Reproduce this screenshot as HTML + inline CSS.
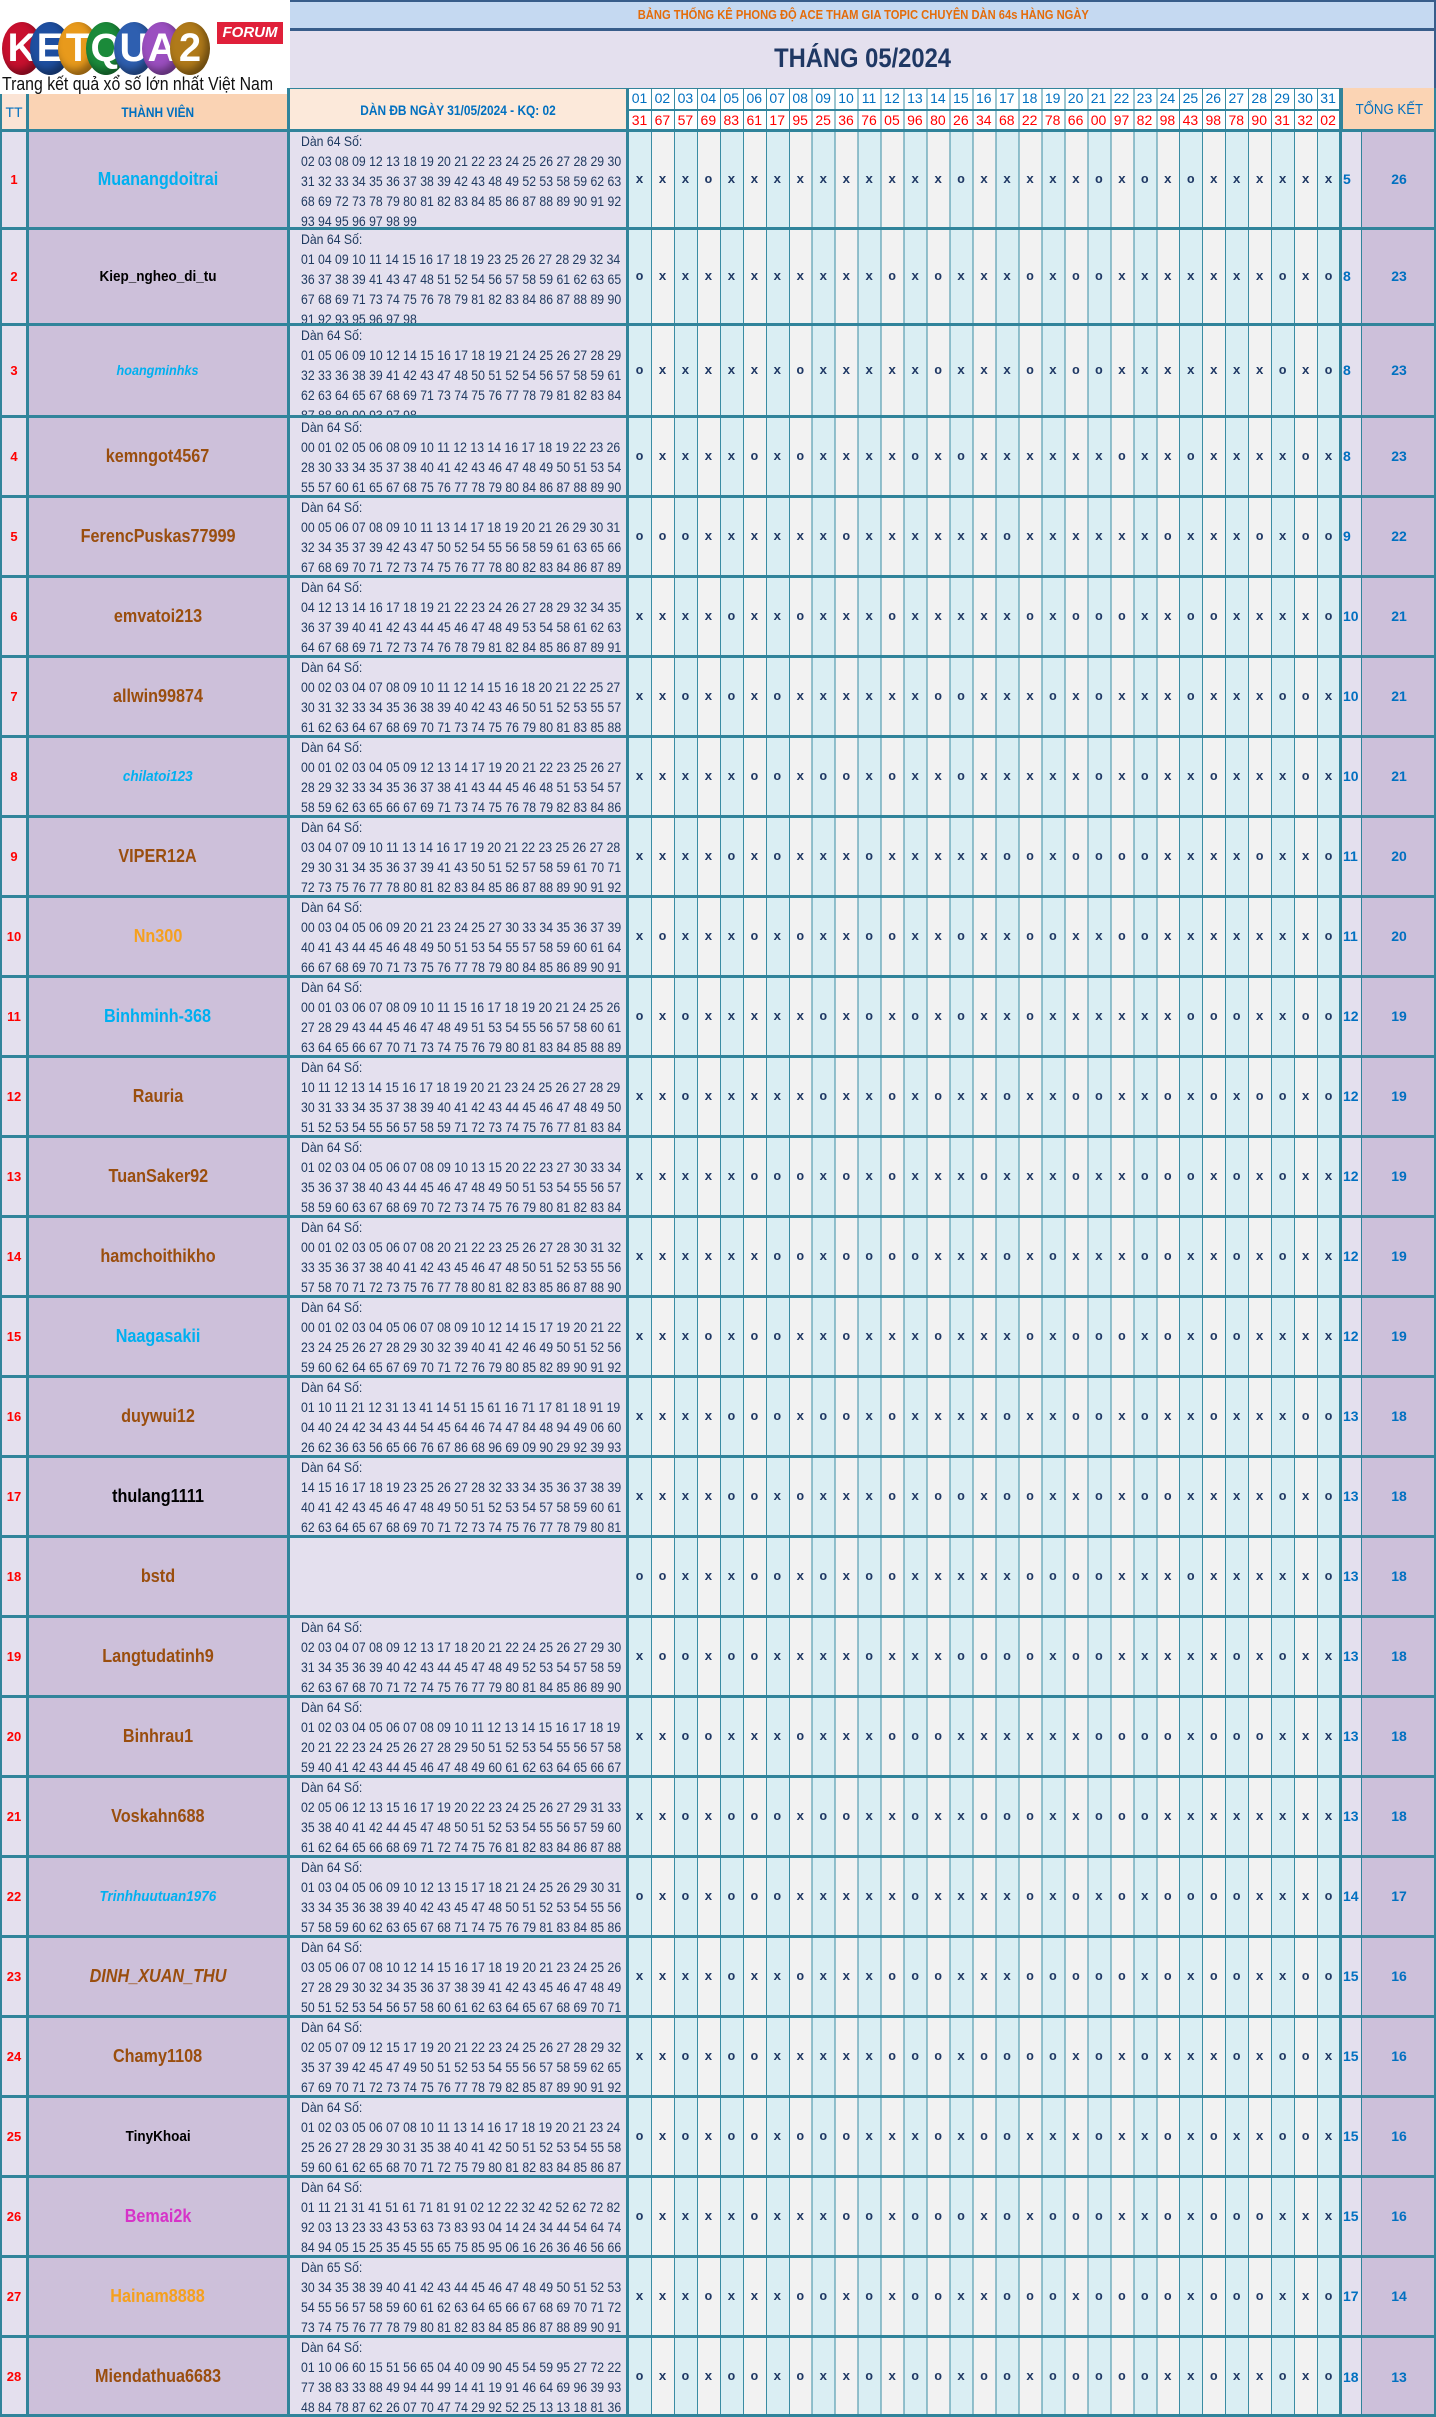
<!DOCTYPE html>
<html><head><meta charset="utf-8">
<style>
*{margin:0;padding:0;box-sizing:border-box}
body{width:1436px;height:2417px;position:relative;overflow:hidden;background:#fff;font-family:"Liberation Sans",sans-serif}
.a{position:absolute}
.r{position:absolute;left:0;width:1436px;display:flex;overflow:hidden}
.tt{width:28px;display:flex;align-items:center;justify-content:center;color:#f00;font-weight:bold;font-size:13px}
.nm{width:260px;display:flex;align-items:center;justify-content:center}
.nm span{display:inline-block;font-weight:bold;font-size:18px;transform:scaleX(.9);white-space:nowrap;color:#9A4E0E}
.dn{width:340px;overflow:hidden;padding-left:13px}
.t{width:366px;transform:scaleX(.875);transform-origin:0 0;white-space:pre;font-size:14px;line-height:20px;color:#1F3A60;padding-top:1px}
.mk{width:712px;font-family:"Liberation Mono",monospace;font-weight:bold;font-size:13px;letter-spacing:15.168px;padding-left:7.6px;display:flex;align-items:center;color:#1F3864;white-space:pre}
.ct{width:22px;display:flex;align-items:center;padding-left:3px;color:#0070C0;font-size:14px}
.to{width:74px;display:flex;align-items:center;justify-content:center;color:#0070C0;font-size:14px}
.hl{position:absolute;left:0;width:1436px;height:3px;background:#31849B}
.vl{position:absolute;top:130px;height:2287px;width:3px;background:#31849B}
.dh{position:absolute;left:628px;width:712px;display:flex}
.dh span{width:22.968px;text-align:center;font-size:14px;display:inline-block}
.nm span.lb{color:#00B0F0}.nm span.bk{color:#000}.it{font-style:italic}.nm span.or{color:#F5A01E}
.circ{position:absolute;top:22px;width:40px;height:53px;border-radius:50%;color:#fff;font-weight:bold;font-size:40px;display:flex;align-items:center;justify-content:center;box-shadow:inset -4px -5px 8px rgba(0,0,0,.4)}
</style></head><body>

<div class="a" style="left:0;top:130px;width:28px;height:2287px;background:#E4E0EE"></div>
<div class="a" style="left:28px;top:130px;width:260px;height:2287px;background:#CDC0DA"></div>
<div class="a" style="left:288px;top:130px;width:340px;height:2287px;background:#E4E0EE"></div>
<div class="a" style="left:628px;top:130px;width:712px;height:2287px;background:repeating-linear-gradient(90deg,#3A8CA3 0 1px,transparent 1px 22.968px),repeating-linear-gradient(90deg,#DAEEF3 0 22.968px,#F2F2F2 22.968px 45.936px)"></div>
<div class="a" style="left:1340px;top:130px;width:22px;height:2287px;background:#E4E0EE"></div>
<div class="a" style="left:1362px;top:130px;width:74px;height:2287px;background:#CDC0DA"></div>

<div class="circ" style="left:2px;background:#C8102E">K</div>
<div class="circ" style="left:30px;background:#1E4FA0">E</div>
<div class="circ" style="left:58px;background:#E89A1C">T</div>
<div class="circ" style="left:86px;background:#1B8A3A">Q</div>
<div class="circ" style="left:114px;background:#2E5FB0">U</div>
<div class="circ" style="left:142px;background:#9B4FC0">A</div>
<div class="circ" style="left:170px;background:#B07A1A">2</div>
<div class="a" style="left:217px;top:22px;width:66px;height:22px;background:#E0203A;color:#fff;font-weight:bold;font-style:italic;font-size:15px;text-align:center;line-height:22px">FORUM</div>
<div class="a" style="left:2px;top:74px;font-size:18px;white-space:nowrap;transform:scaleX(.88);transform-origin:0 0;color:#111">Trang kết quả xổ số lớn nhất Việt Nam</div>

<div class="a" style="left:290px;top:0;width:1146px;height:29px;background:#C5D9F1;border-top:2px solid #385D8A;border-right:2px solid #385D8A"></div>
<div class="a" style="left:290px;top:7px;width:1146px;text-align:center;color:#E46C0A;font-weight:bold;font-size:13px;white-space:nowrap"><span style="display:inline-block;transform:scaleX(.86)">BẢNG THỐNG KÊ PHONG ĐỘ ACE THAM GIA TOPIC CHUYÊN DÀN 64s HÀNG NGÀY</span></div>
<div class="a" style="left:290px;top:28px;width:1146px;height:3px;background:#385D8A"></div>
<div class="a" style="left:290px;top:31px;width:1146px;height:57px;background:#E4E0EE;border-right:2px solid #385D8A"></div>
<div class="a" style="left:290px;top:43px;width:1146px;text-align:center;color:#1F3864;font-weight:bold;font-size:27px;white-space:nowrap"><span style="display:inline-block;transform:scaleX(.88)">THÁNG 05/2024</span></div>

<div class="a" style="left:0;top:94px;width:28px;height:36px;background:#FBE4D5;color:#0070C0;font-size:14px;display:flex;align-items:center;justify-content:center">TT</div>
<div class="a" style="left:28px;top:94px;width:260px;height:36px;background:#FAD3B4;color:#0070C0;font-size:14px;font-weight:bold;display:flex;align-items:center;justify-content:center"><span style="display:inline-block;transform:scaleX(.85)">THÀNH VIÊN</span></div>
<div class="a" style="left:288px;top:88px;width:340px;height:42px;background:#FCE9DA;color:#0070C0;font-size:14px;font-weight:bold;display:flex;align-items:center;justify-content:center;border-top:1px solid #31849B"><span style="display:inline-block;transform:scaleX(.85);white-space:nowrap">DÀN ĐB NGÀY 31/05/2024 - KQ: 02</span></div>
<div class="a" style="left:628px;top:88px;width:712px;height:42px;background:repeating-linear-gradient(90deg,#3A8CA3 0 1px,#fff 1px 22.968px);border-top:1px solid #31849B"></div>
<div class="a" style="left:628px;top:109px;width:712px;height:2px;background:#31849B"></div>
<div class="a" style="left:1340px;top:88px;width:96px;height:42px;background:#FBD4B4;color:#0070C0;font-size:15px;display:flex;align-items:center;justify-content:center;border-left:3px solid #31849B"><span style="display:inline-block;transform:scaleX(.88)">TỔNG KẾT</span></div>

<div class="dh" style="top:90px;color:#0070C0"><span>01</span><span>02</span><span>03</span><span>04</span><span>05</span><span>06</span><span>07</span><span>08</span><span>09</span><span>10</span><span>11</span><span>12</span><span>13</span><span>14</span><span>15</span><span>16</span><span>17</span><span>18</span><span>19</span><span>20</span><span>21</span><span>22</span><span>23</span><span>24</span><span>25</span><span>26</span><span>27</span><span>28</span><span>29</span><span>30</span><span>31</span></div>
<div class="dh" style="top:112px;color:#f00"><span>31</span><span>67</span><span>57</span><span>69</span><span>83</span><span>61</span><span>17</span><span>95</span><span>25</span><span>36</span><span>76</span><span>05</span><span>96</span><span>80</span><span>26</span><span>34</span><span>68</span><span>22</span><span>78</span><span>66</span><span>00</span><span>97</span><span>82</span><span>98</span><span>43</span><span>98</span><span>78</span><span>90</span><span>31</span><span>32</span><span>02</span></div>

<div class="r" style="top:130px;height:98px"><b class="tt">1</b><div class="nm"><span class="lb">Muanangdoitrai</span></div><div class="dn"><div class="t">Dàn 64 Số:
02 03 08 09 12 13 18 19 20 21 22 23 24 25 26 27 28 29 30
31 32 33 34 35 36 37 38 39 42 43 48 49 52 53 58 59 62 63
68 69 72 73 78 79 80 81 82 83 84 85 86 87 88 89 90 91 92
93 94 95 96 97 98 99</div></div><div class="mk">xxxoxxxxxxxxxxoxxxxxoxoxoxxxxxx</div><b class="ct">5</b><b class="to">26</b></div>

<div class="r" style="top:228px;height:96px"><b class="tt">2</b><div class="nm"><span class="bk" style="font-size:15px">Kiep_ngheo_di_tu</span></div><div class="dn"><div class="t">Dàn 64 Số:
01 04 09 10 11 14 15 16 17 18 19 23 25 26 27 28 29 32 34
36 37 38 39 41 43 47 48 51 52 54 56 57 58 59 61 62 63 65
67 68 69 71 73 74 75 76 78 79 81 82 83 84 86 87 88 89 90
91 92 93 95 96 97 98</div></div><div class="mk">oxxxxxxxxxxoxoxxxoxooxxxxxxxoxo</div><b class="ct">8</b><b class="to">23</b></div>

<div class="r" style="top:324px;height:92px"><b class="tt">3</b><div class="nm"><span class="lb it" style="font-size:14px">hoangminhks</span></div><div class="dn"><div class="t">Dàn 64 Số:
01 05 06 09 10 12 14 15 16 17 18 19 21 24 25 26 27 28 29
32 33 36 38 39 41 42 43 47 48 50 51 52 54 56 57 58 59 61
62 63 64 65 67 68 69 71 73 74 75 76 77 78 79 81 82 83 84
87 88 89 90 93 97 98</div></div><div class="mk">oxxxxxxoxxxxxoxxxoxooxxxxxxxoxo</div><b class="ct">8</b><b class="to">23</b></div>

<div class="r" style="top:416px;height:80px"><b class="tt">4</b><div class="nm"><span>kemngot4567</span></div><div class="dn"><div class="t">Dàn 64 Số:
00 01 02 05 06 08 09 10 11 12 13 14 16 17 18 19 22 23 26
28 30 33 34 35 37 38 40 41 42 43 46 47 48 49 50 51 53 54
55 57 60 61 65 67 68 75 76 77 78 79 80 84 86 87 88 89 90</div></div><div class="mk">oxxxxoxoxxxxoxoxxxxxxoxxoxxxxox</div><b class="ct">8</b><b class="to">23</b></div>

<div class="r" style="top:496px;height:80px"><b class="tt">5</b><div class="nm"><span>FerencPuskas77999</span></div><div class="dn"><div class="t">Dàn 64 Số:
00 05 06 07 08 09 10 11 13 14 17 18 19 20 21 26 29 30 31
32 34 35 37 39 42 43 47 50 52 54 55 56 58 59 61 63 65 66
67 68 69 70 71 72 73 74 75 76 77 78 80 82 83 84 86 87 89</div></div><div class="mk">oooxxxxxxoxxxxxxoxxxxxxoxxxoxoo</div><b class="ct">9</b><b class="to">22</b></div>

<div class="r" style="top:576px;height:80px"><b class="tt">6</b><div class="nm"><span>emvatoi213</span></div><div class="dn"><div class="t">Dàn 64 Số:
04 12 13 14 16 17 18 19 21 22 23 24 26 27 28 29 32 34 35
36 37 39 40 41 42 43 44 45 46 47 48 49 53 54 58 61 62 63
64 67 68 69 71 72 73 74 76 78 79 81 82 84 85 86 87 89 91</div></div><div class="mk">xxxxoxxoxxxoxxxxxoxoooxxooxxxxo</div><b class="ct">10</b><b class="to">21</b></div>

<div class="r" style="top:656px;height:80px"><b class="tt">7</b><div class="nm"><span>allwin99874</span></div><div class="dn"><div class="t">Dàn 64 Số:
00 02 03 04 07 08 09 10 11 12 14 15 16 18 20 21 22 25 27
30 31 32 33 34 35 36 38 39 40 42 43 46 50 51 52 53 55 57
61 62 63 64 67 68 69 70 71 73 74 75 76 79 80 81 83 85 88</div></div><div class="mk">xxoxoxoxxxxxxooxxxoxoxxxoxxxoox</div><b class="ct">10</b><b class="to">21</b></div>

<div class="r" style="top:736px;height:80px"><b class="tt">8</b><div class="nm"><span class="lb it" style="font-size:15px">chilatoi123</span></div><div class="dn"><div class="t">Dàn 64 Số:
00 01 02 03 04 05 09 12 13 14 17 19 20 21 22 23 25 26 27
28 29 32 33 34 35 36 37 38 41 43 44 45 46 48 51 53 54 57
58 59 62 63 65 66 67 69 71 73 74 75 76 78 79 82 83 84 86</div></div><div class="mk">xxxxxooxooxoxxoxxxxxoxoxxoxxxox</div><b class="ct">10</b><b class="to">21</b></div>

<div class="r" style="top:816px;height:80px"><b class="tt">9</b><div class="nm"><span>VIPER12A</span></div><div class="dn"><div class="t">Dàn 64 Số:
03 04 07 09 10 11 13 14 16 17 19 20 21 22 23 25 26 27 28
29 30 31 34 35 36 37 39 41 43 50 51 52 57 58 59 61 70 71
72 73 75 76 77 78 80 81 82 83 84 85 86 87 88 89 90 91 92</div></div><div class="mk">xxxxoxoxxxoxxxxxooxooooxxxxoxxo</div><b class="ct">11</b><b class="to">20</b></div>

<div class="r" style="top:896px;height:80px"><b class="tt">10</b><div class="nm"><span class="or">Nn300</span></div><div class="dn"><div class="t">Dàn 64 Số:
00 03 04 05 06 09 20 21 23 24 25 27 30 33 34 35 36 37 39
40 41 43 44 45 46 48 49 50 51 53 54 55 57 58 59 60 61 64
66 67 68 69 70 71 73 75 76 77 78 79 80 84 85 86 89 90 91</div></div><div class="mk">xoxxxoxoxxooxxoxxooxxooxxxxxxxo</div><b class="ct">11</b><b class="to">20</b></div>

<div class="r" style="top:976px;height:80px"><b class="tt">11</b><div class="nm"><span class="lb">Binhminh-368</span></div><div class="dn"><div class="t">Dàn 64 Số:
00 01 03 06 07 08 09 10 11 15 16 17 18 19 20 21 24 25 26
27 28 29 43 44 45 46 47 48 49 51 53 54 55 56 57 58 60 61
63 64 65 66 67 70 71 73 74 75 76 79 80 81 83 84 85 88 89</div></div><div class="mk">oxoxxxxxoxoxoxoxxoxxxxxxoooxxoo</div><b class="ct">12</b><b class="to">19</b></div>

<div class="r" style="top:1056px;height:80px"><b class="tt">12</b><div class="nm"><span>Rauria</span></div><div class="dn"><div class="t">Dàn 64 Số:
10 11 12 13 14 15 16 17 18 19 20 21 23 24 25 26 27 28 29
30 31 33 34 35 37 38 39 40 41 42 43 44 45 46 47 48 49 50
51 52 53 54 55 56 57 58 59 71 72 73 74 75 76 77 81 83 84</div></div><div class="mk">xxoxxxxxoxxoxoxxoxxooxxoxoxooxo</div><b class="ct">12</b><b class="to">19</b></div>

<div class="r" style="top:1136px;height:80px"><b class="tt">13</b><div class="nm"><span>TuanSaker92</span></div><div class="dn"><div class="t">Dàn 64 Số:
01 02 03 04 05 06 07 08 09 10 13 15 20 22 23 27 30 33 34
35 36 37 38 40 43 44 45 46 47 48 49 50 51 53 54 55 56 57
58 59 60 63 67 68 69 70 72 73 74 75 76 79 80 81 82 83 84</div></div><div class="mk">xxxxxoooxoxoxxxoxxxoxxoooxoxoxx</div><b class="ct">12</b><b class="to">19</b></div>

<div class="r" style="top:1216px;height:80px"><b class="tt">14</b><div class="nm"><span>hamchoithikho</span></div><div class="dn"><div class="t">Dàn 64 Số:
00 01 02 03 05 06 07 08 20 21 22 23 25 26 27 28 30 31 32
33 35 36 37 38 40 41 42 43 45 46 47 48 50 51 52 53 55 56
57 58 70 71 72 73 75 76 77 78 80 81 82 83 85 86 87 88 90</div></div><div class="mk">xxxxxxooxooooxxxoxoxxxooxxoxoxx</div><b class="ct">12</b><b class="to">19</b></div>

<div class="r" style="top:1296px;height:80px"><b class="tt">15</b><div class="nm"><span class="lb">Naagasakii</span></div><div class="dn"><div class="t">Dàn 64 Số:
00 01 02 03 04 05 06 07 08 09 10 12 14 15 17 19 20 21 22
23 24 25 26 27 28 29 30 32 39 40 41 42 46 49 50 51 52 56
59 60 62 64 65 67 69 70 71 72 76 79 80 85 82 89 90 91 92</div></div><div class="mk">xxxoxooxxoxxxoxxxoxoooxoxooxxxx</div><b class="ct">12</b><b class="to">19</b></div>

<div class="r" style="top:1376px;height:80px"><b class="tt">16</b><div class="nm"><span>duywui12</span></div><div class="dn"><div class="t">Dàn 64 Số:
01 10 11 21 12 31 13 41 14 51 15 61 16 71 17 81 18 91 19
04 40 24 42 34 43 44 54 45 64 46 74 47 84 48 94 49 06 60
26 62 36 63 56 65 66 76 67 86 68 96 69 09 90 29 92 39 93</div></div><div class="mk">xxxxoooxooxoxxxxoxxooxoxxoxxxoo</div><b class="ct">13</b><b class="to">18</b></div>

<div class="r" style="top:1456px;height:80px"><b class="tt">17</b><div class="nm"><span class="bk">thulang1111</span></div><div class="dn"><div class="t">Dàn 64 Số:
14 15 16 17 18 19 23 25 26 27 28 32 33 34 35 36 37 38 39
40 41 42 43 45 46 47 48 49 50 51 52 53 54 57 58 59 60 61
62 63 64 65 67 68 69 70 71 72 73 74 75 76 77 78 79 80 81</div></div><div class="mk">xxxxooxoxxxoxooxooxxoxooxxxxoxo</div><b class="ct">13</b><b class="to">18</b></div>

<div class="r" style="top:1536px;height:80px"><b class="tt">18</b><div class="nm"><span>bstd</span></div><div class="dn"><div class="t"> </div></div><div class="mk">ooxxxooxoxooxxxxxooooxxxoxxxxxo</div><b class="ct">13</b><b class="to">18</b></div>

<div class="r" style="top:1616px;height:80px"><b class="tt">19</b><div class="nm"><span>Langtudatinh9</span></div><div class="dn"><div class="t">Dàn 64 Số:
02 03 04 07 08 09 12 13 17 18 20 21 22 24 25 26 27 29 30
31 34 35 36 39 40 42 43 44 45 47 48 49 52 53 54 57 58 59
62 63 67 68 70 71 72 74 75 76 77 79 80 81 84 85 86 89 90</div></div><div class="mk">xooxooxxxxoxxxooooxooxxxxxoxoxx</div><b class="ct">13</b><b class="to">18</b></div>

<div class="r" style="top:1696px;height:80px"><b class="tt">20</b><div class="nm"><span>Binhrau1</span></div><div class="dn"><div class="t">Dàn 64 Số:
01 02 03 04 05 06 07 08 09 10 11 12 13 14 15 16 17 18 19
20 21 22 23 24 25 26 27 28 29 50 51 52 53 54 55 56 57 58
59 40 41 42 43 44 45 46 47 48 49 60 61 62 63 64 65 66 67</div></div><div class="mk">xxooxxxoxxxoooxxxxxxooooxoooxxx</div><b class="ct">13</b><b class="to">18</b></div>

<div class="r" style="top:1776px;height:80px"><b class="tt">21</b><div class="nm"><span>Voskahn688</span></div><div class="dn"><div class="t">Dàn 64 Số:
02 05 06 12 13 15 16 17 19 20 22 23 24 25 26 27 29 31 33
35 38 40 41 42 44 45 47 48 50 51 52 53 54 55 56 57 59 60
61 62 64 65 66 68 69 71 72 74 75 76 81 82 83 84 86 87 88</div></div><div class="mk">xxoxoooxooxxoxxoooxxoooxxxxxxxx</div><b class="ct">13</b><b class="to">18</b></div>

<div class="r" style="top:1856px;height:80px"><b class="tt">22</b><div class="nm"><span class="lb it" style="font-size:15px">Trinhhuutuan1976</span></div><div class="dn"><div class="t">Dàn 64 Số:
01 03 04 05 06 09 10 12 13 15 17 18 21 24 25 26 29 30 31
33 34 35 36 38 39 40 42 43 45 47 48 50 51 52 53 54 55 56
57 58 59 60 62 63 65 67 68 71 74 75 76 79 81 83 84 85 86</div></div><div class="mk">oxoxoooxxxxxoxxxxoxoxoxooooxxxo</div><b class="ct">14</b><b class="to">17</b></div>

<div class="r" style="top:1936px;height:80px"><b class="tt">23</b><div class="nm"><span class="it">DINH_XUAN_THU</span></div><div class="dn"><div class="t">Dàn 64 Số:
03 05 06 07 08 10 12 14 15 16 17 18 19 20 21 23 24 25 26
27 28 29 30 32 34 35 36 37 38 39 41 42 43 45 46 47 48 49
50 51 52 53 54 56 57 58 60 61 62 63 64 65 67 68 69 70 71</div></div><div class="mk">xxxxoxxoxxxoooxxxoooooxoxooxxoo</div><b class="ct">15</b><b class="to">16</b></div>

<div class="r" style="top:2016px;height:80px"><b class="tt">24</b><div class="nm"><span>Chamy1108</span></div><div class="dn"><div class="t">Dàn 64 Số:
02 05 07 09 12 15 17 19 20 21 22 23 24 25 26 27 28 29 32
35 37 39 42 45 47 49 50 51 52 53 54 55 56 57 58 59 62 65
67 69 70 71 72 73 74 75 76 77 78 79 82 85 87 89 90 91 92</div></div><div class="mk">xxoxooxxxxxoooxooooxoxoxxxoxoox</div><b class="ct">15</b><b class="to">16</b></div>

<div class="r" style="top:2096px;height:80px"><b class="tt">25</b><div class="nm"><span class="bk" style="font-size:15px">TinyKhoai</span></div><div class="dn"><div class="t">Dàn 64 Số:
01 02 03 05 06 07 08 10 11 13 14 16 17 18 19 20 21 23 24
25 26 27 28 29 30 31 35 38 40 41 42 50 51 52 53 54 55 58
59 60 61 62 65 68 70 71 72 75 79 80 81 82 83 84 85 86 87</div></div><div class="mk">oxoxooxoooxxxoxooxxxoxxoxoxxoox</div><b class="ct">15</b><b class="to">16</b></div>

<div class="r" style="top:2176px;height:80px"><b class="tt">26</b><div class="nm"><span style="color:#D633C8">Bemai2k</span></div><div class="dn"><div class="t">Dàn 64 Số:
01 11 21 31 41 51 61 71 81 91 02 12 22 32 42 52 62 72 82
92 03 13 23 33 43 53 63 73 83 93 04 14 24 34 44 54 64 74
84 94 05 15 25 35 45 55 65 75 85 95 06 16 26 36 46 56 66</div></div><div class="mk">oxxxxoxxxooxoooxoxoooxxoxoooxxx</div><b class="ct">15</b><b class="to">16</b></div>

<div class="r" style="top:2256px;height:80px"><b class="tt">27</b><div class="nm"><span class="or">Hainam8888</span></div><div class="dn"><div class="t">Dàn 65 Số:
30 34 35 38 39 40 41 42 43 44 45 46 47 48 49 50 51 52 53
54 55 56 57 58 59 60 61 62 63 64 65 66 67 68 69 70 71 72
73 74 75 76 77 78 79 80 81 82 83 84 85 86 87 88 89 90 91</div></div><div class="mk">xxxoxxxooxoxooxxoooxooooxoooxxo</div><b class="ct">17</b><b class="to">14</b></div>

<div class="r" style="top:2336px;height:81px"><b class="tt">28</b><div class="nm"><span>Miendathua6683</span></div><div class="dn"><div class="t">Dàn 64 Số:
01 10 06 60 15 51 56 65 04 40 09 90 45 54 59 95 27 72 22
77 38 83 33 88 49 94 44 99 14 41 19 91 46 64 69 96 39 93
48 84 78 87 62 26 07 70 47 74 29 92 52 25 13 13 18 81 36</div></div><div class="mk">oxoxooxoxxoxooxooxoooooxxoxxoxo</div><b class="ct">18</b><b class="to">13</b></div>

<div class="hl" style="top:129px"></div>
<div class="hl" style="top:227px"></div>
<div class="hl" style="top:323px"></div>
<div class="hl" style="top:415px"></div>
<div class="hl" style="top:495px"></div>
<div class="hl" style="top:575px"></div>
<div class="hl" style="top:655px"></div>
<div class="hl" style="top:735px"></div>
<div class="hl" style="top:815px"></div>
<div class="hl" style="top:895px"></div>
<div class="hl" style="top:975px"></div>
<div class="hl" style="top:1055px"></div>
<div class="hl" style="top:1135px"></div>
<div class="hl" style="top:1215px"></div>
<div class="hl" style="top:1295px"></div>
<div class="hl" style="top:1375px"></div>
<div class="hl" style="top:1455px"></div>
<div class="hl" style="top:1535px"></div>
<div class="hl" style="top:1615px"></div>
<div class="hl" style="top:1695px"></div>
<div class="hl" style="top:1775px"></div>
<div class="hl" style="top:1855px"></div>
<div class="hl" style="top:1935px"></div>
<div class="hl" style="top:2015px"></div>
<div class="hl" style="top:2095px"></div>
<div class="hl" style="top:2175px"></div>
<div class="hl" style="top:2255px"></div>
<div class="hl" style="top:2335px"></div>
<div class="hl" style="top:2414px"></div>
<div class="vl" style="left:26px;top:94px;height:2323px"></div>
<div class="vl" style="left:287px;top:88px;height:2329px"></div>
<div class="vl" style="left:626px;top:88px;height:2329px"></div>
<div class="vl" style="left:1339px;top:88px;height:2329px"></div>
<div class="vl" style="left:1361px;width:1px"></div>
<div class="vl" style="left:1434px;top:88px;height:2329px;width:2px"></div>
<div class="vl" style="left:0;top:94px;height:2323px;width:2px"></div>
</body></html>
